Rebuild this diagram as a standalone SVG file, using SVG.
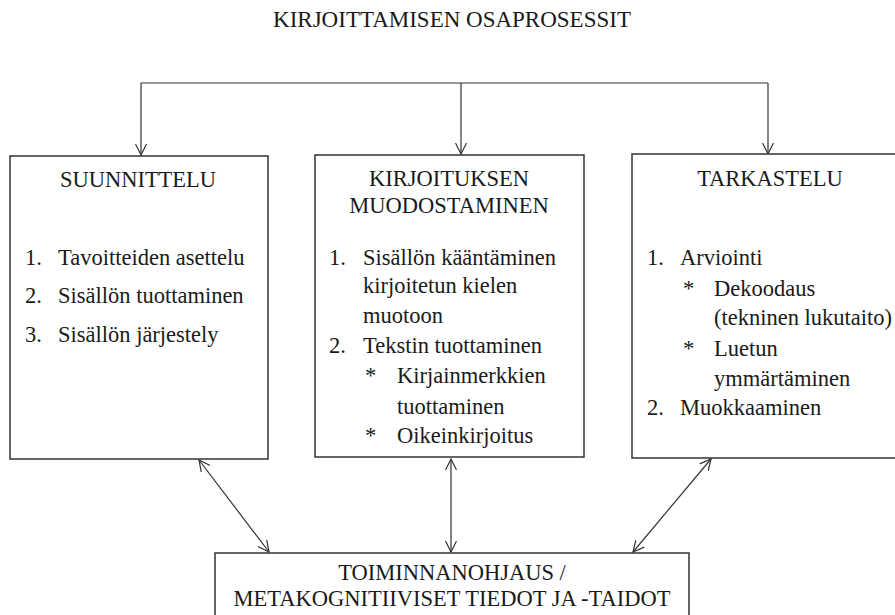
<svg xmlns="http://www.w3.org/2000/svg" width="895" height="615" viewBox="0 0 895 615">
<style>
text{font-family:'Liberation Serif',Tinos,'Times New Roman',Times,serif;font-size:22.5px;fill:#1a1a1a}
.t{font-size:23px}
.c{text-anchor:middle}
.box{fill:#fff;stroke:#333;stroke-width:1.5}
.ln{fill:none;stroke:#333;stroke-width:1.2}
</style>
<defs>
<marker id="ah" viewBox="0 0 12 12" refX="11" refY="6" markerWidth="12" markerHeight="12" markerUnits="userSpaceOnUse" orient="auto-start-reverse">
<path d="M0,0.5 L11,6 L0,11.5" fill="none" stroke="#333" stroke-width="1.2"/>
</marker>
</defs>
<rect width="895" height="615" fill="#fff"/>
<text class="c t" x="452" y="27">KIRJOITTAMISEN OSAPROSESSIT</text>
<g id="connectors">
<path class="ln" d="M141,83 H768"/>
<path class="ln" d="M141,83 V155" marker-end="url(#ah)"/>
<path class="ln" d="M461,83 V154" marker-end="url(#ah)"/>
<path class="ln" d="M768,83 V154" marker-end="url(#ah)"/>
<path class="ln" d="M199,460 L269,552" marker-start="url(#ah)" marker-end="url(#ah)"/>
<path class="ln" d="M451,459 V552" marker-start="url(#ah)" marker-end="url(#ah)"/>
<path class="ln" d="M711,459 L633,552" marker-start="url(#ah)" marker-end="url(#ah)"/>
</g>
<g id="suunnittelu">
<rect class="box" x="10" y="156" width="258" height="303"/>
<text class="c" x="138" y="187">SUUNNITTELU</text>
<text x="25" y="265">1.</text><text x="58" y="265">Tavoitteiden asettelu</text>
<text x="25" y="303">2.</text><text x="58" y="303">Sisällön tuottaminen</text>
<text x="25" y="342">3.</text><text x="58" y="342">Sisällön järjestely</text>
</g>
<g id="muodostaminen">
<rect class="box" x="315" y="155" width="269" height="302"/>
<text class="c" x="449" y="186">KIRJOITUKSEN</text>
<text class="c" x="449" y="213">MUODOSTAMINEN</text>
<text x="329" y="265">1.</text><text x="363" y="265">Sisällön kääntäminen</text>
<text x="363" y="293">kirjoitetun kielen</text>
<text x="363" y="323">muotoon</text>
<text x="329" y="353">2.</text><text x="363" y="353">Tekstin tuottaminen</text>
<text x="365" y="383">*</text><text x="397" y="383">Kirjainmerkkien</text>
<text x="397" y="414">tuottaminen</text>
<text x="365" y="443">*</text><text x="397" y="443">Oikeinkirjoitus</text>
</g>
<g id="tarkastelu">
<rect class="box" x="632" y="154" width="290" height="304"/>
<text class="c" x="770" y="186">TARKASTELU</text>
<text x="647" y="265">1.</text><text x="680" y="265">Arviointi</text>
<text x="683" y="296">*</text><text x="714" y="296">Dekoodaus</text>
<text x="714" y="325">(tekninen lukutaito)</text>
<text x="683" y="356">*</text><text x="714" y="356">Luetun</text>
<text x="714" y="386">ymmärtäminen</text>
<text x="647" y="415">2.</text><text x="680" y="415">Muokkaaminen</text>
</g>
<g id="toiminnanohjaus">
<rect class="box" x="215" y="553" width="474" height="80"/>
<text class="c" x="452" y="580">TOIMINNANOHJAUS /</text>
<text class="c" x="452" y="606">METAKOGNITIIVISET TIEDOT JA -TAIDOT</text>
</g>
</svg>
